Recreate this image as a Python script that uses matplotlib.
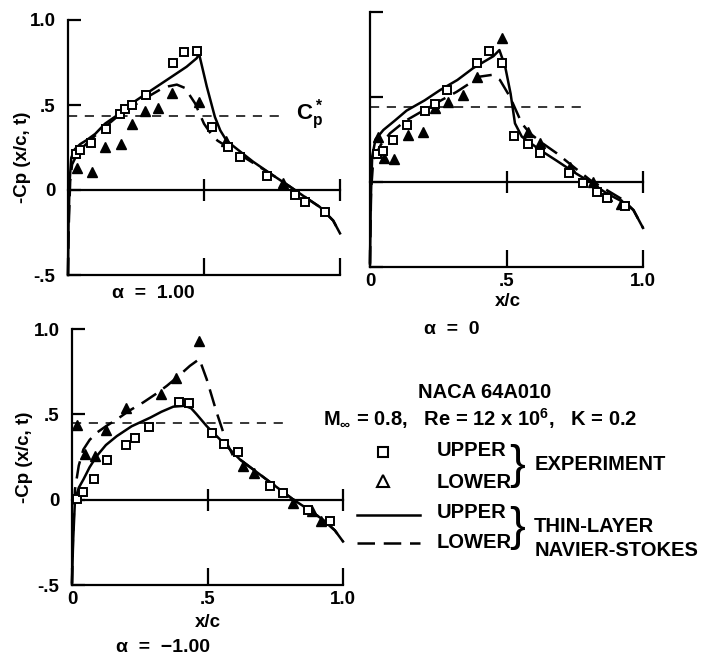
import matplotlib
matplotlib.use("Agg")
import matplotlib.pyplot as plt
import numpy as np

plt.rcParams['font.family'] = ['Liberation Sans', 'DejaVu Sans']
plt.rcParams['font.weight'] = 'bold'
plt.rcParams['mathtext.fontset'] = 'custom'
plt.rcParams['mathtext.rm'] = 'Liberation Sans:bold'
plt.rcParams['mathtext.bf'] = 'Liberation Sans:bold'
plt.rcParams['mathtext.it'] = 'Liberation Sans:bold'

# ---- alpha = 1.00 ----
a1_exp_up_x = [0.03, 0.045, 0.083, 0.14, 0.19, 0.21, 0.234, 0.286, 0.387, 0.426, 0.475, 0.53, 0.59, 0.632, 0.73, 0.835, 0.871, 0.945]
a1_exp_up_y = [0.21, 0.235, 0.275, 0.36, 0.45, 0.475, 0.50, 0.56, 0.745, 0.81, 0.82, 0.37, 0.255, 0.196, 0.082, -0.03, -0.07, -0.13]
a1_exp_lo_x = [0.032, 0.087, 0.136, 0.194, 0.234, 0.283, 0.332, 0.383, 0.48, 0.58, 0.79]
a1_exp_lo_y = [0.128, 0.108, 0.255, 0.27, 0.39, 0.465, 0.48, 0.57, 0.52, 0.29, 0.04]
a1_ns_up_x = [0, 0.002, 0.006, 0.012, 0.025, 0.045, 0.069, 0.10, 0.136, 0.19, 0.235, 0.30, 0.363, 0.436, 0.473, 0.482, 0.51, 0.54, 0.56, 0.583, 0.63, 0.68, 0.75, 0.816, 0.87, 0.926, 0.975, 1.0]
a1_ns_up_y = [-0.5, -0.2, 0.05, 0.19, 0.24, 0.27, 0.294, 0.33, 0.39, 0.45, 0.51, 0.58, 0.647, 0.725, 0.775, 0.80, 0.61, 0.43, 0.35, 0.29, 0.23, 0.167, 0.09, 0.02, -0.04, -0.1, -0.18, -0.255]
a1_ns_lo_x = [0, 0.003, 0.008, 0.015, 0.03, 0.06, 0.12, 0.18, 0.235, 0.29, 0.338, 0.37, 0.40, 0.43, 0.467, 0.50, 0.53, 0.55, 0.58, 0.62, 0.68, 0.75, 0.816, 0.87, 0.926, 0.975, 1.0]
a1_ns_lo_y = [-0.5, -0.2, 0.05, 0.15, 0.2, 0.26, 0.35, 0.43, 0.49, 0.545, 0.59, 0.61, 0.62, 0.60, 0.51, 0.39, 0.32, 0.29, 0.26, 0.22, 0.16, 0.09, 0.02, -0.04, -0.1, -0.18, -0.255]
a1_cpstar = 0.435

# ---- alpha = 0 ----
a0_exp_up_x = [0.024, 0.049, 0.085, 0.134, 0.20, 0.238, 0.283, 0.393, 0.437, 0.484, 0.529, 0.58, 0.623, 0.73, 0.78, 0.83, 0.867, 0.934]
a0_exp_up_y = [0.165, 0.184, 0.247, 0.335, 0.42, 0.46, 0.54, 0.70, 0.77, 0.70, 0.27, 0.224, 0.169, 0.055, -0.004, -0.057, -0.096, -0.14]
a0_exp_lo_x = [0.03, 0.05, 0.089, 0.138, 0.193, 0.238, 0.287, 0.339, 0.393, 0.485, 0.58, 0.623, 0.733, 0.818, 0.867, 0.92]
a0_exp_lo_y = [0.263, 0.14, 0.133, 0.276, 0.296, 0.433, 0.47, 0.51, 0.62, 0.845, 0.296, 0.227, 0.09, 0.002, -0.08, -0.13]
a0_ns_up_x = [0, 0.003, 0.008, 0.02, 0.049, 0.09, 0.134, 0.2, 0.256, 0.32, 0.378, 0.452, 0.474, 0.495, 0.515, 0.531, 0.556, 0.623, 0.684, 0.745, 0.806, 0.867, 0.93, 0.965, 1.0]
a0_ns_up_y = [-0.48, -0.1, 0.15, 0.25, 0.306, 0.36, 0.42, 0.48, 0.54, 0.60, 0.67, 0.74, 0.776, 0.68, 0.52, 0.345, 0.267, 0.188, 0.125, 0.06, 0.0, -0.067, -0.12, -0.165, -0.27]
a0_ns_lo_x = [0, 0.004, 0.012, 0.04, 0.073, 0.13, 0.195, 0.26, 0.317, 0.36, 0.403, 0.446, 0.476, 0.513, 0.556, 0.586, 0.63, 0.684, 0.745, 0.806, 0.87, 0.928, 0.965, 1.0]
a0_ns_lo_y = [-0.48, -0.05, 0.13, 0.22, 0.286, 0.36, 0.42, 0.48, 0.53, 0.575, 0.62, 0.63, 0.60, 0.50, 0.345, 0.286, 0.23, 0.169, 0.09, 0.012, -0.05, -0.106, -0.165, -0.27]
a0_cpstar = 0.44

# ---- alpha = -1.00 ----
am1_exp_up_x = [0.017, 0.042, 0.082, 0.13, 0.20, 0.232, 0.284, 0.395, 0.433, 0.515, 0.562, 0.611, 0.731, 0.78, 0.872, 0.952]
am1_exp_up_y = [0.004, 0.043, 0.124, 0.23, 0.32, 0.363, 0.427, 0.573, 0.569, 0.392, 0.324, 0.282, 0.078, 0.039, -0.059, -0.124]
am1_exp_lo_x = [0.02, 0.048, 0.085, 0.125, 0.20, 0.33, 0.383, 0.47, 0.632, 0.673, 0.817, 0.884, 0.92]
am1_exp_lo_y = [0.44, 0.27, 0.255, 0.41, 0.54, 0.617, 0.71, 0.93, 0.20, 0.157, -0.02, -0.069, -0.127]
am1_ns_up_x = [0, 0.004, 0.011, 0.025, 0.042, 0.065, 0.091, 0.125, 0.165, 0.22, 0.288, 0.33, 0.374, 0.417, 0.44, 0.46, 0.497, 0.546, 0.62, 0.718, 0.817, 0.87, 0.927, 0.97, 1.0]
am1_ns_up_y = [-0.49, -0.25, 0.0, 0.07, 0.118, 0.19, 0.255, 0.32, 0.372, 0.43, 0.48, 0.515, 0.545, 0.55, 0.535, 0.5, 0.431, 0.353, 0.235, 0.118, 0.0, -0.055, -0.118, -0.18, -0.245]
am1_ns_lo_x = [0, 0.004, 0.011, 0.025, 0.042, 0.065, 0.091, 0.125, 0.165, 0.21, 0.263, 0.31, 0.35, 0.39, 0.435, 0.47, 0.497, 0.534, 0.571, 0.595, 0.62, 0.718, 0.817, 0.87, 0.927, 0.97, 1.0]
am1_ns_lo_y = [-0.49, -0.2, 0.06, 0.2, 0.294, 0.35, 0.392, 0.43, 0.47, 0.52, 0.57, 0.62, 0.667, 0.72, 0.784, 0.824, 0.706, 0.51, 0.333, 0.255, 0.235, 0.118, 0.0, -0.055, -0.118, -0.18, -0.245]
am1_cpstar = 0.447

ytick_vals = [-0.5, 0, 0.5, 1.0]
ytick_labels = ['-.5', '0', '.5', '1.0']
xtick_vals = [0, 0.5, 1.0]
xtick_labels = ['0', '.5', '1.0']

W, H = 704, 658
fig = plt.figure(figsize=(W / 100, H / 100), dpi=100)


def px_rect(left, top, right, bottom):
    return [left / W, 1 - bottom / H, (right - left) / W, (bottom - top) / H]


def draw_panel(ax, eu_x, eu_y, el_x, el_y, nu_x, nu_y, nl_x, nl_y, cpstar, cp_end,
               show_x, show_y):
    ax.set_xlim(0, 1)
    ax.set_ylim(-0.5, 1.0)
    ax.patch.set_visible(False)
    for s in ['top', 'right']:
        ax.spines[s].set_visible(False)
    for s in ['left', 'bottom']:
        ax.spines[s].set_linewidth(1.6)
    ax.set_xticks(xtick_vals)
    ax.set_yticks(ytick_vals)
    ax.set_xticklabels(xtick_labels if show_x else ['', '', ''])
    ax.set_yticklabels(ytick_labels if show_y else ['', '', '', ''])
    ax.tick_params(axis='x', direction='in', length=12, width=1.6, labelsize=13.5, pad=4)
    ax.tick_params(axis='y', direction='in', length=9, width=1.6, labelsize=13.5, pad=9)

    # zero line with crossing ticks
    ax.plot([0, 1], [0, 0], color='black', lw=1.6, clip_on=False)
    ax.plot(xtick_vals[1:], [0, 0], ls='none', marker='|', ms=16, mew=1.6,
            color='black', clip_on=False)
    # sonic line
    ax.plot([0, cp_end], [cpstar, cpstar], color='black', lw=1.1,
            dashes=(6, 5), clip_on=False)

    ax.plot(nl_x, nl_y, color='black', lw=1.8, dashes=(7, 3.5), clip_on=False)
    ax.plot(nu_x, nu_y, color='black', lw=1.8, clip_on=False)
    ax.plot(el_x, el_y, ls='none', marker='^', ms=7, color='black', clip_on=False)
    ax.plot(eu_x, eu_y, ls='none', marker='s', ms=5.5, mfc='white', mec='black',
            mew=1.4, clip_on=False)


ax1 = fig.add_axes(px_rect(68, 20, 340, 275))
draw_panel(ax1, a1_exp_up_x, a1_exp_up_y, a1_exp_lo_x, a1_exp_lo_y,
           a1_ns_up_x, a1_ns_up_y, a1_ns_lo_x, a1_ns_lo_y, a1_cpstar, 0.80,
           show_x=False, show_y=True)
ax1.set_ylabel('-Cp (x/c, t)', fontsize=13.5, fontweight='bold')
ax1.yaxis.set_label_coords(-0.136, 0.46)
ax1.text(0.84, a1_cpstar + 0.01, r'$\mathbf{C_p^*}$', fontsize=16, va='center', ha='left')

ax2 = fig.add_axes(px_rect(370, 12, 643, 267))
draw_panel(ax2, a0_exp_up_x, a0_exp_up_y, a0_exp_lo_x, a0_exp_lo_y,
           a0_ns_up_x, a0_ns_up_y, a0_ns_lo_x, a0_ns_lo_y, a0_cpstar, 0.78,
           show_x=True, show_y=False)
ax2.set_xlabel('x/c', fontsize=13.5, fontweight='bold')
ax2.xaxis.set_label_coords(0.505, -0.10)

ax3 = fig.add_axes(px_rect(72, 329, 343, 585))
draw_panel(ax3, am1_exp_up_x, am1_exp_up_y, am1_exp_lo_x, am1_exp_lo_y,
           am1_ns_up_x, am1_ns_up_y, am1_ns_lo_x, am1_ns_lo_y, am1_cpstar, 0.79,
           show_x=True, show_y=True)
ax3.set_ylabel('-Cp (x/c, t)', fontsize=13.5, fontweight='bold')
ax3.yaxis.set_label_coords(-0.144, 0.5)
ax3.set_xlabel('x/c', fontsize=13.5, fontweight='bold')
ax3.xaxis.set_label_coords(0.502, -0.115)

# overlay in pixel coordinates for captions and legend
ov = fig.add_axes([0, 0, 1, 1])
ov.set_xlim(0, W)
ov.set_ylim(H, 0)
ov.axis('off')

ov.text(153, 294, 'α  =  1.00', fontsize=14, ha='center', va='center')
ov.text(452, 330, 'α  =  0', fontsize=14, ha='center', va='center')
ov.text(163, 648, 'α  =  −1.00', fontsize=14, ha='center', va='center')

fs = 14.5
ov.text(485, 393, 'NACA 64A010', fontsize=fs, ha='center', va='center')
ov.text(323, 419, r'$\mathbf{M_\infty}$ = 0.8,   Re = 12 x 10$^\mathbf{6}$,   K = 0.2',
        fontsize=fs, ha='left', va='center')

ov.plot([383], [452], ls='none', marker='s', ms=7, mfc='white', mec='black', mew=1.5)
ov.plot([383], [481], ls='none', marker='^', ms=8, mfc='white', mec='black', mew=1.5)
ov.plot([357, 420], [515, 515], color='black', lw=1.8)
ov.plot([357, 420], [543, 543], color='black', lw=1.8, dashes=(7, 3.5))

for y, s in [(450, 'UPPER'), (482, 'LOWER'), (512, 'UPPER'), (542, 'LOWER')]:
    ov.text(437, y, s, fontsize=fs, ha='left', va='center')

ov.text(517, 466, '}', fontsize=34, fontweight='light', ha='center', va='center')
ov.text(517, 528, '}', fontsize=34, fontweight='light', ha='center', va='center')
ov.text(535, 465, 'EXPERIMENT', fontsize=fs, ha='left', va='center')
ov.text(534, 527, 'THIN-LAYER', fontsize=fs, ha='left', va='center')
ov.text(535, 551, 'NAVIER-STOKES', fontsize=fs, ha='left', va='center')

fig.savefig('out.png', dpi=100)
